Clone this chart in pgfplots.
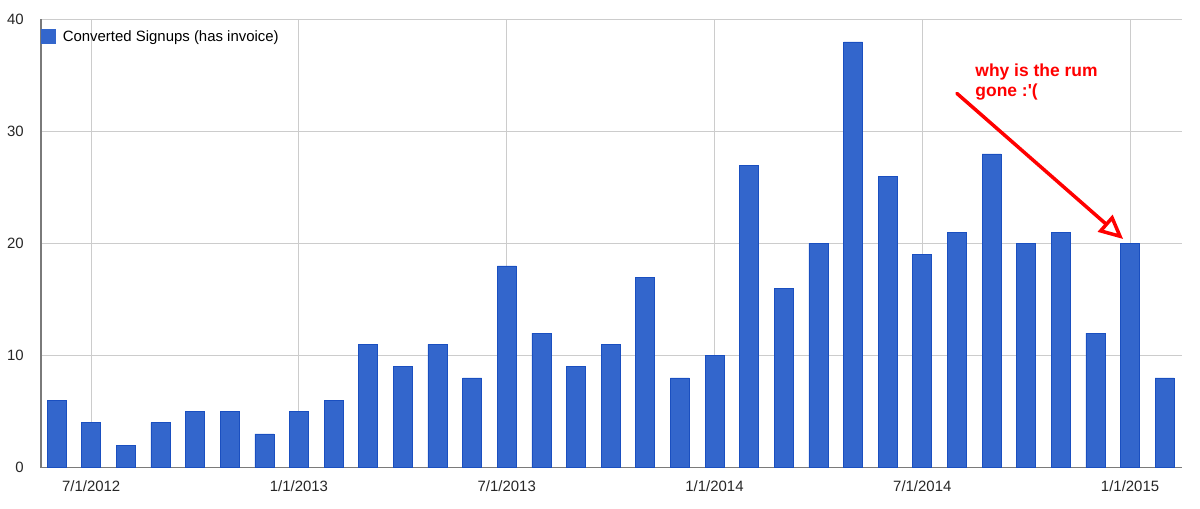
\documentclass[border=0pt]{standalone}
\usepackage{fontspec}
\setmainfont{Liberation Sans}
\usepackage{pgfplots}
\pgfplotsset{compat=1.18}
\usetikzlibrary{arrows.meta}

\definecolor{barblue}{HTML}{3366CC}
\definecolor{baredge}{HTML}{1A4FC0}
\definecolor{gridgray}{HTML}{CCCCCC}
\definecolor{axisgray}{HTML}{7A7A7A}
\definecolor{noteRed}{HTML}{FF0000}

% monthly signups, Jun 2012 .. Feb 2015 (index 0 = 6/2012)
\pgfplotstableread{
idx signups
0 6
1 4
2 2
3 4
4 5
5 5
6 3
7 5
8 6
9 11
10 9
11 11
12 8
13 18
14 12
15 9
16 11
17 17
18 8
19 10
20 27
21 16
22 20
23 38
24 26
25 19
26 21
27 28
28 20
29 21
30 12
31 20
32 8
}\signupdata

\begin{document}
\begin{tikzpicture}
\useasboundingbox (-41bp,-41.5bp) rectangle (1159bp,467.5bp);
\begin{axis}[
    at={(0,0)}, anchor=south west,
    width=1141bp, height=448bp, scale only axis=true,
    ybar, bar width=19bp,
    xmin=-0.45, xmax=32.5,
    ymin=0, ymax=40,
    axis x line*=bottom, axis y line*=left,
    axis line style={draw=axisgray, line width=1.3bp},
    xtick={1,7,13,19,25,31},
    xticklabels={7/1/2012,1/1/2013,7/1/2013,1/1/2014,7/1/2014,1/1/2015},
    ytick={0,10,20,30,40},
    major tick length=0pt,
    grid=major,
    major grid style={draw=gridgray, line width=1bp},
    tick label style={font=\fontsize{15}{18}\selectfont, text=black!85},
    xticklabel style={anchor=base, inner sep=0pt, yshift=-23.5bp},
    yticklabel style={anchor=east, inner sep=0pt, xshift=-17bp},
    /pgf/number format/assume math mode=true,
    legend style={at={(0,1)}, anchor=north west, yshift=-9.5bp,
        draw=none, fill=none, inner sep=0pt, column sep=7bp,
        font=\fontsize{15}{18}\selectfont,
        nodes={inner sep=0pt}},
    legend cell align=left,
    legend image code/.code={\fill[barblue] (0bp,-7bp) rectangle (14bp,7bp);},
]
\addplot[fill=barblue, draw=baredge, line width=0.6bp] table[x=idx, y=signups] {\signupdata};
\addlegendentry{Converted Signups (has invoice)}

% the annotation
\draw[noteRed, line width=3.5bp, line cap=round,
      -{Triangle[open, length=24bp, width=22bp]}]
    (axis cs:26.0,33.4) -- (axis cs:30.8,20.4);
\node[anchor=north west, inner sep=0pt, text=noteRed, align=left,
      font=\bfseries\fontsize{17.5}{21}\selectfont]
    at (axis cs:26.53,36.1) {why is the rum\\gone :\textquotesingle(};
\end{axis}
\end{tikzpicture}
\end{document}
